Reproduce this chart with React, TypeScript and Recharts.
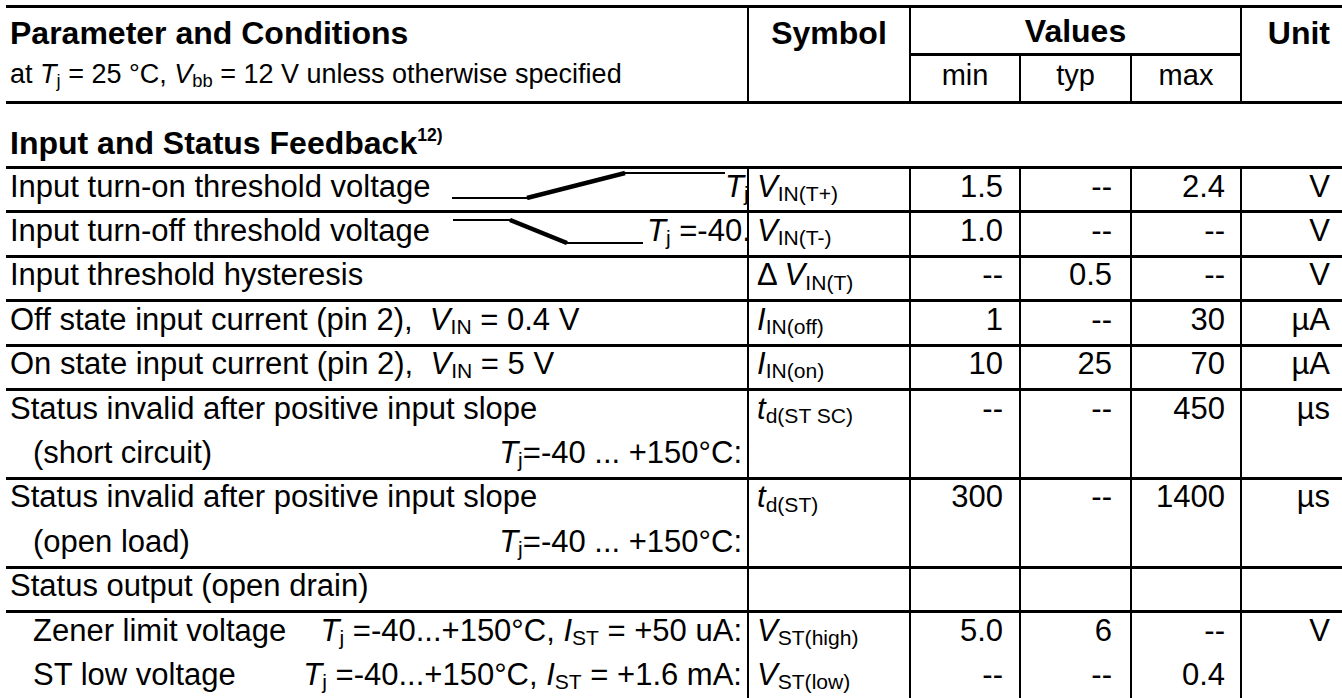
import React from "react";
import { LineChart, Line, XAxis, YAxis } from "recharts";

const FONT = '"Liberation Sans", Arial, Helvetica, sans-serif';
const BODY = 31;
const HEAD = 32;

// little sketches of the input ramps (time in arbitrary units, logic level 0..1)
const turnOnTime = [0, 75, 173, 273];
const turnOnLevel = [0, 0, 1, 1];
const turnOffTime = [0, 57, 114, 190];
const turnOffLevel = [1, 1, 0, 0];

const valueHeads = ["min", "typ", "max"];
const symbolBase = ["V", "V", "V", "I", "I", "t", "t", "", "V", "V"];
const symbolSub = ["IN(T+)", "IN(T-)", "IN(T)", "IN(off)", "IN(on)", "d(ST SC)", "d(ST)", "", "ST(high)", "ST(low)"];
const minValues = ["1.5", "1.0", "--", "1", "10", "--", "300", "", "5.0", "--"];
const typValues = ["--", "--", "0.5", "--", "25", "--", "--", "", "6", "--"];
const maxValues = ["2.4", "--", "--", "30", "70", "450", "1400", "", "--", "0.4"];
const units = ["V", "V", "V", "\u00b5A", "\u00b5A", "\u00b5s", "\u00b5s", "", "V", ""];
const rowUnits = [1, 1, 1, 1, 1, 2, 2, 1, 1, 1];
const ruleBelow = [true, true, true, true, true, true, true, true, false, false];

const W = 1342;
const H = 698;
const X_SYM = 748;
const X_MIN = 910;
const X_TYP = 1020;
const X_MAX = 1131;
const X_UNIT = 1241;
const ROW = 44.4;
const BODY_TOP = 167.5;
const HEAD_BOTTOM = 102.5;
const VALUES_RULE = 54;

const rowTops: number[] = [];
rowUnits.forEach((u, i) => {
  rowTops.push(i === 0 ? BODY_TOP : rowTops[i - 1] + rowUnits[i - 1] * ROW);
});

const Sub = ({ children }: { children: React.ReactNode }) => (
  <span style={{ fontSize: "0.68em", position: "relative", top: "0.2em" }}>{children}</span>
);

function Txt({ x, y, h = ROW, size = BODY, bold = false, right = false, center = false, children }: any) {
  let transform: string | undefined;
  if (right) transform = "translateX(-100%)";
  if (center) transform = "translateX(-50%)";
  return (
    <div
      style={{
        position: "absolute",
        left: x,
        top: y - 3,
        height: h,
        lineHeight: `${h}px`,
        fontSize: size,
        fontWeight: bold ? 700 : 400,
        whiteSpace: "nowrap",
        transform,
      }}
    >
      {children}
    </div>
  );
}

const HRule = ({ x1, x2, y, t = 3 }: any) => (
  <div style={{ position: "absolute", left: x1, top: y - t / 2, width: x2 - x1, height: t, background: "#000" }} />
);
const VRule = ({ x, y1, y2, t = 2 }: any) => (
  <div style={{ position: "absolute", left: x - t / 2, top: y1, width: t, height: y2 - y1, background: "#000" }} />
);

function Ramp({ time, level, left, top, width, height }: any) {
  const data = time.map((t: number, i: number) => ({
    t,
    flat: level[i],
    ramp: i === 1 || i === 2 ? level[i] : null,
  }));
  return (
    <div style={{ position: "absolute", left, top }}>
      <LineChart width={width} height={height} data={data} margin={{ top: 2, right: 0, bottom: 2, left: 0 }}>
        <XAxis type="number" dataKey="t" domain={[time[0], time[time.length - 1]]} hide />
        <YAxis type="number" domain={[0, 1]} hide />
        <Line dataKey="flat" stroke="#000" strokeWidth={2} dot={false} isAnimationActive={false} />
        <Line dataKey="ramp" stroke="#000" strokeWidth={4.5} dot={false} isAnimationActive={false} />
      </LineChart>
    </div>
  );
}

const Tj = () => (
  <>
    <i>T</i>
    <Sub>j</Sub>
  </>
);

export default function App() {
  const r = rowTops;
  return (
    <div
      style={{
        position: "absolute",
        left: 0,
        top: 0,
        width: W,
        height: H,
        overflow: "hidden",
        background: "#fff",
        color: "#000",
        fontFamily: FONT,
      }}
    >
      {/* header */}
      <HRule x1={6} x2={W} y={6} />
      <Txt x={10} y={14} size={HEAD} bold>
        Parameter and Conditions
      </Txt>
      <Txt x={10} y={57} h={40} size={27}>
        at <Tj /> = 25 °C, <i>V</i>
        <Sub>bb</Sub> = 12 V unless otherwise specified
      </Txt>
      <Txt x={(X_SYM + X_MIN) / 2} y={14} size={HEAD} bold center>
        Symbol
      </Txt>
      <Txt x={(X_MIN + X_UNIT) / 2} y={12} size={HEAD} bold center>
        Values
      </Txt>
      <Txt x={1330} y={14} size={HEAD} bold right>
        Unit
      </Txt>
      {valueHeads.map((v, i) => {
        const edges = [X_MIN, X_TYP, X_MAX, X_UNIT];
        return (
          <Txt key={v} x={(edges[i] + edges[i + 1]) / 2} y={58} h={40} size={29} center>
            {v}
          </Txt>
        );
      })}
      <HRule x1={X_MIN} x2={X_UNIT} y={VALUES_RULE} />
      <HRule x1={6} x2={W} y={HEAD_BOTTOM} />
      {[X_SYM, X_MIN, X_UNIT].map((x) => (
        <VRule key={x} x={x} y1={6} y2={HEAD_BOTTOM} />
      ))}
      {[X_TYP, X_MAX].map((x) => (
        <VRule key={x} x={x} y1={VALUES_RULE} y2={HEAD_BOTTOM} />
      ))}

      {/* section title */}
      <Txt x={10} y={124} size={HEAD} bold>
        Input and Status Feedback
        <span style={{ fontSize: "0.55em", position: "relative", top: "-0.75em" }}>12)</span>
      </Txt>
      <HRule x1={6} x2={W} y={BODY_TOP} />

      {/* body rules */}
      {rowTops.map((top, i) =>
        ruleBelow[i] ? <HRule key={i} x1={6} x2={W} y={top + rowUnits[i] * ROW} /> : null
      )}
      {[X_SYM, X_MIN, X_TYP, X_MAX, X_UNIT].map((x) => (
        <VRule key={x} x={x} y1={BODY_TOP} y2={H} />
      ))}

      {/* parameter column, clipped at the symbol column */}
      <div style={{ position: "absolute", left: 0, top: 0, width: X_SYM - 1, height: H, overflow: "hidden" }}>
        <Txt x={10} y={r[0]}>Input turn-on threshold voltage</Txt>
        <Ramp time={turnOnTime} level={turnOnLevel} left={452} top={171.3} width={273} height={29} />
        <Txt x={725} y={r[0]}>
          <Tj />
        </Txt>

        <Txt x={10} y={r[1]}>Input turn-off threshold voltage</Txt>
        <Ramp time={turnOffTime} level={turnOffLevel} left={453} top={218} width={190} height={27} />
        <Txt x={647} y={r[1]}>
          <Tj /> =-40.
        </Txt>

        <Txt x={10} y={r[2]}>Input threshold hysteresis</Txt>
        <Txt x={10} y={r[3]}>
          Off state input current (pin 2),&nbsp; <i>V</i>
          <Sub>IN</Sub> = 0.4 V
        </Txt>
        <Txt x={10} y={r[4]}>
          On state input current (pin 2),&nbsp; <i>V</i>
          <Sub>IN</Sub> = 5 V
        </Txt>

        <Txt x={10} y={r[5]}>Status invalid after positive input slope</Txt>
        <Txt x={33} y={r[5] + ROW}>(short circuit)</Txt>
        <Txt x={742} y={r[5] + ROW} right>
          <Tj />
          =-40 ... +150°C:
        </Txt>

        <Txt x={10} y={r[6]}>Status invalid after positive input slope</Txt>
        <Txt x={33} y={r[6] + ROW}>(open load)</Txt>
        <Txt x={742} y={r[6] + ROW} right>
          <Tj />
          =-40 ... +150°C:
        </Txt>

        <Txt x={10} y={r[7]}>Status output (open drain)</Txt>

        <Txt x={33} y={r[8]}>Zener limit voltage</Txt>
        <Txt x={742} y={r[8]} right>
          <Tj /> =-40...+150°C, <i>I</i>
          <Sub>ST</Sub> = +50 uA:
        </Txt>
        <Txt x={33} y={r[9]}>ST low voltage</Txt>
        <Txt x={742} y={r[9]} right>
          <Tj /> =-40...+150°C, <i>I</i>
          <Sub>ST</Sub> = +1.6 mA:
        </Txt>
      </div>

      {/* symbols and values */}
      {rowTops.map((top, i) => (
        <React.Fragment key={i}>
          {symbolBase[i] && (
            <Txt x={X_SYM + 9} y={top}>
              {i === 2 ? "\u0394 " : ""}
              <i>{symbolBase[i]}</i>
              <Sub>{symbolSub[i]}</Sub>
            </Txt>
          )}
          <Txt x={X_TYP - 17} y={top} right>
            {minValues[i]}
          </Txt>
          <Txt x={X_MAX - 19} y={top} right>
            {typValues[i]}
          </Txt>
          <Txt x={X_UNIT - 16} y={top} right>
            {maxValues[i]}
          </Txt>
          <Txt x={1330} y={top} right>
            {units[i]}
          </Txt>
        </React.Fragment>
      ))}
    </div>
  );
}
